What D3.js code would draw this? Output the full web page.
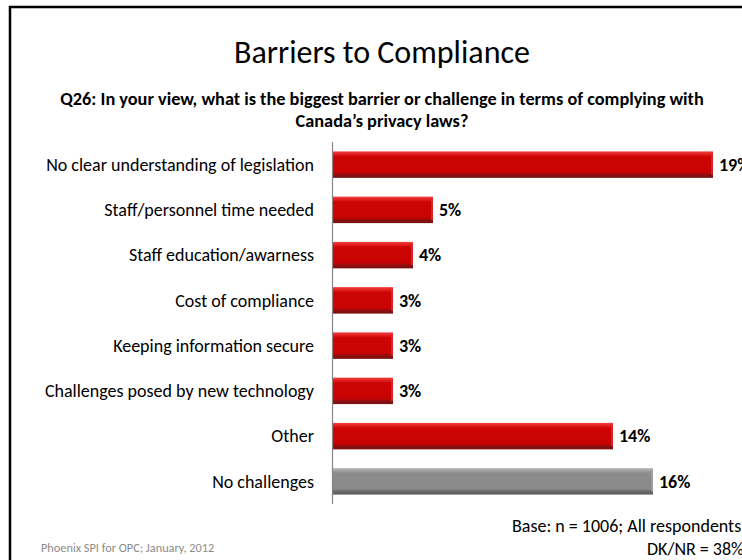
<!DOCTYPE html>
<html>
<head>
<meta charset="utf-8">
<script src="https://cdn.jsdelivr.net/npm/d3@7"></script>
<style>
  html, body { margin: 0; padding: 0; background: #fff; }
  svg { display: block; }
  text { font-family: Carlito, Calibri, Lato, "Open Sans", sans-serif; }
</style>
</head>
<body>
<svg id="chart" width="742" height="560"></svg>
<script>
// Survey responses, Q26
const categories = [
  "No clear understanding of legislation",
  "Staff/personnel time needed",
  "Staff education/awarness",
  "Cost of compliance",
  "Keeping information secure",
  "Challenges posed by new technology",
  "Other",
  "No challenges"
];
const percentages = [19, 5, 4, 3, 3, 3, 14, 16];
const barKinds = ["red", "red", "red", "red", "red", "red", "red", "gray"];

const titleText = "Barriers to Compliance";
const questionLines = [
  "Q26: In your view, what is the biggest barrier or challenge in terms of complying with",
  "Canada\u2019s privacy laws?"
];
const sourceNote = "Phoenix SPI for OPC; January, 2012";
const baseNotes = ["Base: n = 1006; All respondents", "DK/NR = 38%"];

const svg = d3.select("#chart");

// Slide frame
svg.append("rect")
  .attr("x", 10).attr("y", 7)
  .attr("width", 900).attr("height", 700)
  .attr("fill", "none").attr("stroke", "#000").attr("stroke-width", 2.5);

// Bar gradients
const defs = svg.append("defs");
function addGrad(id, stops) {
  const g = defs.append("linearGradient").attr("id", id)
    .attr("x1", 0).attr("y1", 0).attr("x2", 0).attr("y2", 1);
  stops.forEach(s => g.append("stop").attr("offset", s[0]).attr("stop-color", s[1]));
}
addGrad("gradRed", [
  [0, "#f04040"], [0.1, "#e42020"], [0.2, "#cd0404"], [0.78, "#c90303"],
  [0.84, "#a80808"], [0.9, "#861010"], [1, "#7a1010"]
]);
addGrad("gradGray", [
  [0, "#b8b8b8"], [0.1, "#a0a0a0"], [0.2, "#8c8c8c"], [0.78, "#8a8a8a"],
  [0.84, "#777"], [0.9, "#666"], [1, "#5e5e5e"]
]);

// Scales
const x = d3.scaleLinear().domain([0, 19]).range([333, 713]);
const y = d3.scaleBand().domain(categories).range([142, 504])
  .paddingInner(0.415).paddingOuter(0.2075);

// Title and question
svg.append("text")
  .attr("x", 382).attr("y", 63)
  .attr("text-anchor", "middle")
  .attr("font-size", 32).attr("font-weight", 300).attr("fill", "#000")
  .text(titleText);

svg.selectAll("text.question").data(questionLines).join("text")
  .attr("class", "question")
  .attr("x", 382).attr("y", (d, i) => 105 + i * 22)
  .attr("text-anchor", "middle")
  .attr("font-size", 18.3).attr("font-weight", "bold").attr("fill", "#000")
  .text(d => d);

// Bars
const rows = categories.map((c, i) => ({ c, v: percentages[i], k: barKinds[i] }));

svg.selectAll("rect.bar").data(rows).join("rect")
  .attr("class", "bar")
  .attr("x", x(0))
  .attr("y", d => y(d.c))
  .attr("width", d => x(d.v) - x(0))
  .attr("height", y.bandwidth())
  .attr("fill", d => d.k === "red" ? "url(#gradRed)" : "url(#gradGray)");

// Bevel edge on the bar ends
svg.selectAll("rect.edge").data(rows).join("rect")
  .attr("class", "edge")
  .attr("x", d => x(d.v) - 2)
  .attr("y", d => y(d.c) + 2)
  .attr("width", 2)
  .attr("height", y.bandwidth() - 5)
  .attr("fill", d => d.k === "red" ? "#e43030" : "#a5a5a5")
  .attr("opacity", 0.7);

// Category axis line
svg.append("line")
  .attr("x1", x(0) - 0.5).attr("x2", x(0) - 0.5)
  .attr("y1", 142).attr("y2", 504)
  .attr("stroke", "#868686").attr("stroke-width", 1.2);

// Category labels
svg.selectAll("text.cat").data(rows).join("text")
  .attr("class", "cat")
  .attr("x", 314)
  .attr("y", d => y(d.c) + y.bandwidth() / 2)
  .attr("dy", "0.35em")
  .attr("text-anchor", "end")
  .attr("font-size", 18).attr("fill", "#000")
  .text(d => d.c);

// Value labels
svg.selectAll("text.val").data(rows).join("text")
  .attr("class", "val")
  .attr("x", d => x(d.v) + 6)
  .attr("y", d => y(d.c) + y.bandwidth() / 2)
  .attr("dy", "0.35em")
  .attr("font-size", 18).attr("font-weight", "bold").attr("fill", "#000")
  .text(d => d.v + "%");

// Notes
svg.append("text")
  .attr("x", 41).attr("y", 552)
  .attr("font-size", 12.3).attr("fill", "#8c8c8c")
  .text(sourceNote);

svg.selectAll("text.base").data(baseNotes).join("text")
  .attr("class", "base")
  .attr("x", (d, i) => i === 0 ? 512 : 647)
  .attr("y", (d, i) => 532 + i * 23)
  .attr("font-size", 18).attr("fill", "#000")
  .text(d => d);
</script>
</body>
</html>
